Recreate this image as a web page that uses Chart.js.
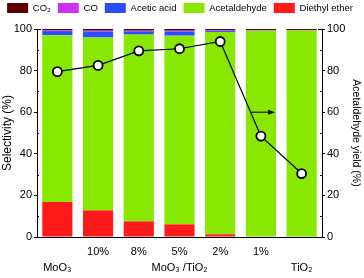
<!DOCTYPE html>
<html>
<head>
<meta charset="utf-8">
<script src="https://cdn.jsdelivr.net/npm/chart.js@4.4.0/dist/chart.umd.min.js"></script>
<style>
  html, body { margin: 0; padding: 0; background: #fff; }
  #wrap { width: 364px; height: 278px; }
</style>
</head>
<body>
<div id="wrap"><canvas id="selChart" width="364" height="278"></canvas></div>
<script>
// values
const catRow1 = ['', '10%', '8%', '5%', '2%', '1%', ''];
const catRow2 = ['MoO₃', '', '', 'MoO₃ /TiO₂', '', '', 'TiO₂'];

const diethylEther = [16.8, 12.8, 7.5, 6.1, 1.3, 0.2, 0.2];
const acetaldehyde = [80.2, 83.1, 89.8, 90.7, 97.3, 99.0, 99.1];
const aceticAcid = [2.0, 2.9, 1.6, 2.0, 0.6, 0.1, 0.0];
const coSel = [0.3, 0.4, 0.3, 0.4, 0.3, 0.1, 0.1];
const co2Sel = [0.7, 0.8, 0.8, 0.8, 0.5, 0.6, 0.6];

const yieldVals = [79.5, 82.5, 89.5, 90.5, 94, 48.5, 30.5];
const arrowLevel = 60; // yield level where the "-> right axis" arrow sits

document.addEventListener('DOMContentLoaded', function () {
  renderChart();
});

// minor ticks, top hooks and the arrow pointing at the right axis
const extras = {
  id: 'extras',
  afterLayout(chart) {
    // legend sits tight against the top edge in the original
    chart.legend.top -= 6;
    chart.legend.left -= 4;
  },
  afterDraw(chart) {
    const { ctx, chartArea } = chart;
    const y = chart.scales.y;
    const x = chart.scales.x;
    const y1 = chart.scales.y1;
    ctx.save();
    ctx.strokeStyle = '#000';
    ctx.lineWidth = 1;
    ctx.beginPath();
    for (let v = 10; v < 100; v += 20) {
      const py = Math.round(y.getPixelForValue(v)) + 0.5;
      ctx.moveTo(chartArea.left, py);
      ctx.lineTo(chartArea.left + 2, py);
      ctx.moveTo(chartArea.right, py);
      ctx.lineTo(chartArea.right - 2, py);
    }
    const top = Math.round(y.getPixelForValue(100)) + 0.5;
    ctx.moveTo(chartArea.left, top);
    ctx.lineTo(chartArea.left + 4, top);
    ctx.moveTo(chartArea.right, top);
    ctx.lineTo(chartArea.right - 4, top);
    ctx.stroke();

    // arrow from the 2% -> 1% segment towards the right axis
    const xa = x.getPixelForValue(4), xb = x.getPixelForValue(5);
    const ya = y1.getPixelForValue(yieldVals[4]), yb = y1.getPixelForValue(yieldVals[5]);
    const py = y1.getPixelForValue(arrowLevel);
    const sx = xa + (xb - xa) * (py - ya) / (yb - ya);
    const ex = xb + x.width / 7 * 0.35;
    ctx.beginPath();
    ctx.moveTo(sx, py);
    ctx.lineTo(ex - 5, py);
    ctx.stroke();
    ctx.beginPath();
    ctx.fillStyle = '#000';
    ctx.moveTo(ex, py);
    ctx.lineTo(ex - 7, py - 2.5);
    ctx.lineTo(ex - 7, py + 2.5);
    ctx.closePath();
    ctx.fill();
    ctx.restore();
  }
};

function renderChart() {
  const ctx = document.getElementById('selChart').getContext('2d');
  const labels = catRow1.map((t, i) => [t, catRow2[i]]);

  const bar = (label, data, color) => ({
    type: 'bar',
    label: label,
    data: data,
    backgroundColor: color,
    borderWidth: 0,
    stack: 's',
    yAxisID: 'y',
    order: 1,
    barPercentage: 0.74,
    categoryPercentage: 1.0
  });

  const axisFont = { family: 'Liberation Sans, Arial, sans-serif', size: 11 };

  new Chart(ctx, {
    data: {
      labels: labels,
      datasets: [
        bar('Diethyl ether', diethylEther, '#ff1a1a'),
        bar('Acetaldehyde', acetaldehyde, '#88e800'),
        bar('Acetic acid', aceticAcid, '#2b4dff'),
        bar('CO', coSel, '#cc33ee'),
        bar('CO₂', co2Sel, '#5e0000'),
        {
          type: 'line',
          label: 'yield',
          data: yieldVals,
          yAxisID: 'y1',
          borderColor: '#000',
          borderWidth: 1.2,
          pointRadius: 4.5,
          pointBackgroundColor: '#fff',
          pointBorderColor: '#000',
          pointBorderWidth: 1.8,
          order: 0
        }
      ]
    },
    options: {
      responsive: false,
      animation: false,
      layout: { padding: { top: 2, left: 0, right: 0, bottom: 0 } },
      plugins: {
        legend: {
          position: 'top',
          reverse: true,
          labels: {
            filter: item => item.text !== 'yield',
            boxWidth: 21,
            boxHeight: 10,
            padding: 7,
            color: '#000',
            font: { family: 'Liberation Sans, Arial, sans-serif', size: 9.5 }
          }
        },
        tooltip: { enabled: false }
      },
      scales: {
        x: {
          stacked: true,
          grid: { display: false, drawTicks: false, tickLength: 0 },
          border: { display: true, color: '#000', width: 1 },
          ticks: {
            color: '#000',
            padding: 7,
            maxRotation: 0,
            autoSkip: false,
            font: Object.assign({ lineHeight: 1.45 }, axisFont)
          },
          afterFit: s => { s.height = 41; }
        },
        y: {
          stacked: true,
          min: 0,
          max: 100,
          position: 'left',
          grid: { drawOnChartArea: false, tickLength: 3, color: '#000' },
          border: { display: true, color: '#000', width: 1 },
          ticks: { stepSize: 20, color: '#000', padding: 2, font: axisFont },
          title: {
            display: true,
            text: 'Selectivity (%)',
            color: '#000',
            padding: { top: 0, bottom: 1 },
            font: { family: 'Liberation Sans, Arial, sans-serif', size: 12 }
          },
          afterFit: s => { s.width = 37; }
        },
        y1: {
          min: 0,
          max: 100,
          position: 'right',
          grid: { drawOnChartArea: false, tickLength: 3, color: '#000' },
          border: { display: true, color: '#000', width: 1 },
          ticks: { stepSize: 20, color: '#000', padding: 2, font: axisFont },
          title: {
            display: true,
            text: 'Acetaldehyde yield (%)',
            color: '#000',
            padding: { top: 2, bottom: 0 },
            font: { family: 'Liberation Sans, Arial, sans-serif', size: 10.5 }
          },
          afterFit: s => { s.width = 42; }
        }
      }
    },
    plugins: [extras]
  });
}
</script>
</body>
</html>
